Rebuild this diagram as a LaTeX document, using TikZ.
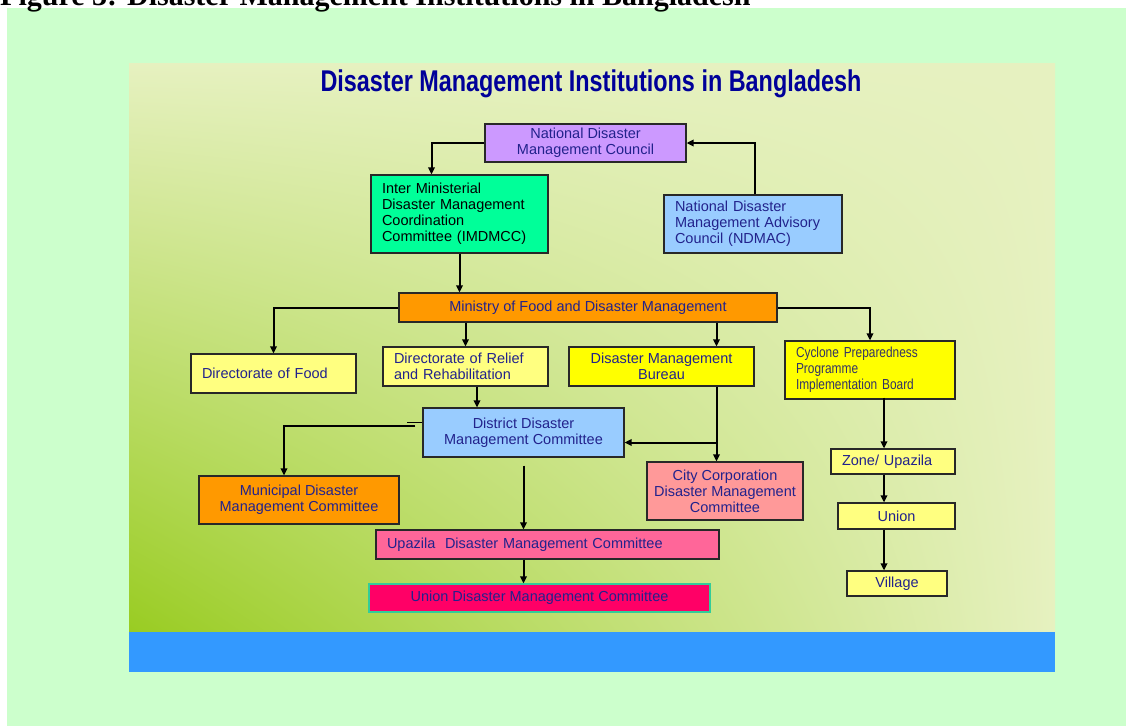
\documentclass[tikz,border=0pt]{standalone}
\usepackage{fontspec}
\setmainfont{Liberation Sans}
\newfontfamily\narrowfont[FakeStretch=0.82]{Liberation Sans}
\newfontfamily\headfont[FakeStretch=0.78]{Liberation Sans}
\newfontfamily\capfont{Liberation Serif}
\usetikzlibrary{arrows.meta,shadings}

\definecolor{pagegreen}{RGB}{204,255,204}
\definecolor{slidelight}{RGB}{230,241,192}
\definecolor{slidegreen}{RGB}{153,204,34}
\definecolor{footblue}{RGB}{51,153,255}
\definecolor{titleblue}{RGB}{0,0,153}
\definecolor{navytext}{RGB}{34,34,140}
\definecolor{boxline}{RGB}{40,40,40}
\definecolor{purplebox}{RGB}{204,153,255}
\definecolor{greenbox}{RGB}{0,255,153}
\definecolor{bluebox}{RGB}{153,204,255}
\definecolor{orangebox}{RGB}{255,153,0}
\definecolor{paleyellow}{RGB}{255,255,128}
\definecolor{yellowbox}{RGB}{255,255,0}
\definecolor{salmonbox}{RGB}{255,153,153}
\definecolor{pinkbox}{RGB}{255,102,153}
\definecolor{crimsonbox}{RGB}{255,0,102}
\definecolor{tealline}{RGB}{51,204,153}
\definecolor{cppitext}{RGB}{51,51,102}

\newcommand\orgfont{\fontsize{14.5}{16}\selectfont}

\begin{document}
\begin{tikzpicture}[x=1pt, y=-1pt,
    box/.style={draw=boxline, line width=1.2pt, inner sep=0pt, text=navytext, font=\orgfont, align=center},
    link/.style={-{Triangle[length=7pt,width=6.5pt]}, line width=2pt}]
    \useasboundingbox (0,0) rectangle (1126,726);
    % page and slide
    \fill[white] (0,0) rectangle (1126,726);
    \fill[pagegreen] (7,8) rectangle (1126,726);
    \shade[upper left=slidelight, upper right=slidelight, lower right=slidelight, lower left=slidegreen] (129,63) rectangle (1055,632);
    \fill[footblue] (129,632) rectangle (1055,672);
    \node[anchor=base west, inner sep=0pt, font=\capfont\bfseries\fontsize{30}{30}\selectfont] (figcap) at (0,5) {Figure 3: Disaster Management Institutions in Bangladesh};
    \node[inner sep=0pt, text=titleblue, font=\headfont\bfseries\fontsize{30}{30}\selectfont] (title) at (591,84) {Disaster Management Institutions in Bangladesh};

    % institutions
    \node[box, fill=purplebox, minimum width=201, minimum height=38] (ndmc) at (585.5,143) {National Disaster\\Management Council};
    \node[box, fill=greenbox, text=black, minimum width=177, minimum height=78, text width=155, align=left] (imdmcc) at (459.5,214) {Inter Ministerial\\Disaster Management\\Coordination\\Committee (IMDMCC)};
    \node[box, fill=bluebox, minimum width=178, minimum height=58, text width=156, align=left] (ndmac) at (753,224) {National Disaster\\Management Advisory\\Council (NDMAC)};
    \node[box, fill=orangebox, minimum width=378, minimum height=29] (ministry) at (588,307.5) {Ministry of Food and Disaster Management};
    \node[box, fill=paleyellow, minimum width=165, minimum height=39, text width=143, align=left] (dirfood) at (273.5,373.5) {Directorate of Food};
    \node[box, fill=paleyellow, minimum width=165, minimum height=39, text width=143, align=left] (relief) at (465.5,366.5) {Directorate of Relief\\and Rehabilitation};
    \node[box, fill=yellowbox, minimum width=185, minimum height=39] (dmb) at (661.5,366.5) {Disaster Management\\Bureau};
    \node[box, fill=yellowbox, text=cppitext, font=\narrowfont\orgfont, minimum width=170, minimum height=58, text width=148, align=left] (cppib) at (870,370) {Cyclone Preparedness\\Programme\\Implementation Board};
    \node[box, fill=bluebox, minimum width=201, minimum height=49] (district) at (523.5,432.5) {District Disaster\\Management Committee};
    \node[box, fill=orangebox, minimum width=200, minimum height=48] (municipal) at (299,500) {Municipal Disaster\\Management Committee};
    \node[box, fill=salmonbox, minimum width=156, minimum height=58] (citycorp) at (725,491) {City Corporation\\Disaster Management\\Committee};
    \node[box, fill=pinkbox, minimum width=343, minimum height=29, text width=321, align=left] (upazila) at (547.5,544.5) {Upazila~ Disaster Management Committee};
    \node[box, draw=tealline, fill=crimsonbox, minimum width=341, minimum height=28] (uniondmc) at (539.5,598) {Union Disaster Management Committee};
    \node[box, fill=paleyellow, minimum width=124, minimum height=25, text width=102, align=left] (zone) at (893,461.5) {Zone/ Upazila};
    \node[box, fill=paleyellow, minimum width=117, minimum height=26] (union) at (896.5,516) {Union};
    \node[box, fill=paleyellow, minimum width=100, minimum height=25] (village) at (897,583.5) {Village};

    % bend points
    \coordinate (dmbin) at ([xshift=55pt]dmb.north);
    \coordinate (dmbout) at ([xshift=55pt]dmb.south);
    \coordinate (reliefout) at ([xshift=11.5pt]relief.south);
    \coordinate (districtin) at ([yshift=-10pt]district.east);
    \coordinate (districtleft) at ([xshift=-7pt,yshift=7pt]district.west);
    \coordinate (districtstub) at ([yshift=10pt]district.west);
    \coordinate (munin) at ([xshift=-15pt]municipal.north);
    \coordinate (cppibout) at ([xshift=14pt,yshift=2pt]cppib.south);

    % connectors
    \draw[link] (ndmc.west) -| ([xshift=-28pt]imdmcc.north);
    \draw[link] ([xshift=2pt]ndmac.north) |- (ndmc.east);
    \draw[link] (imdmcc.south) -- (imdmcc.south |- ministry.north);
    \draw[link] (ministry.west) -| (dirfood.north);
    \draw[link] (relief.north |- ministry.south) -- (relief.north);
    \draw[link] (dmbin |- ministry.south) -- (dmbin);
    \draw[link] (ministry.east) -| (cppib.north);
    \draw[link] (reliefout) -- (reliefout |- district.north);
    \draw[link] (dmbout) -- (dmbout |- citycorp.north);
    \draw[link] (dmbout |- districtin) -- (districtin);
    \draw[link] (districtleft) -| (munin);
    \draw[line width=1pt] (districtstub) -- ++(-15,0);
    \draw[link] ([yshift=-8pt]district.south) -- (district.south |- upazila.north);
    \draw[link] (district.south |- upazila.south) -- (district.south |- uniondmc.north);
    \draw[link] (cppibout) -- (cppibout |- zone.north);
    \draw[link] (cppibout |- zone.south) -- (cppibout |- union.north);
    \draw[link] (cppibout |- union.south) -- (cppibout |- village.north);
\end{tikzpicture}
\end{document}
